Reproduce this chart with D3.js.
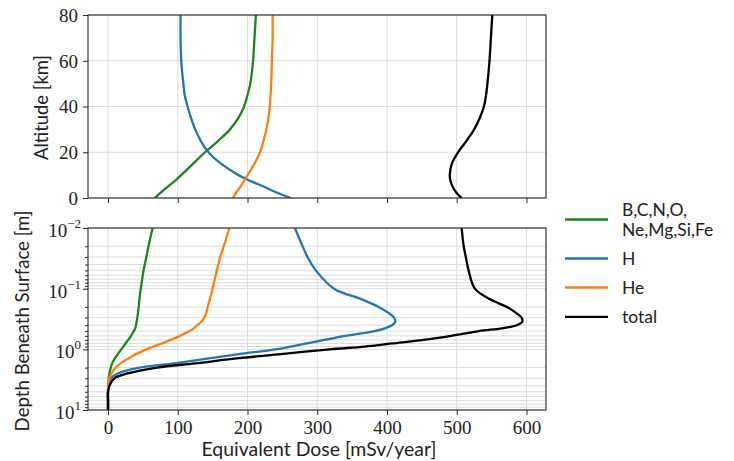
<!DOCTYPE html>
<html><head><meta charset="utf-8">
<script src="https://cdn.jsdelivr.net/npm/d3@7"></script>
<style>body{margin:0;background:#fff}svg{display:block}</style>
</head><body>
<svg id="c" width="734" height="461"></svg>
<script>
// ---------- DATA ----------
const doseTicks = [0, 100, 200, 300, 400, 500, 600];
const altTicks = [0, 20, 40, 60, 80];
const depthTicks = [0.01, 0.1, 1, 10];
const depthTickExp = ["\u22122", "\u22121", "0", "1"];

const seriesNames = ["B,C,N,O,|Ne,Mg,Si,Fe", "H", "He", "total"];
const seriesColors = ["#1b861b", "#1f77b4", "#ff7f0e", "#000000"];

// upper panel: altitude [km]
const altitude   = [0, 2.5, 5, 7.5, 10, 15, 20, 25, 30, 35, 40, 45, 50, 60, 70, 80];
const altHeavy   = [67, 76, 86, 96, 105, 122, 139, 158, 175, 187, 195, 200, 204, 208, 210, 212];
const altH       = [262, 241, 223, 204, 187, 162, 144, 133, 125, 119, 114, 110, 108, 105, 104, 104];
const altHe      = [179, 184, 190, 195, 200, 210, 218, 223, 227, 230, 232, 233, 234, 235, 236, 236];
const altTotal   = [507, 499, 494, 491, 490, 493, 502, 514, 525, 533, 539, 542, 544, 547, 549, 551];

// lower panel: depth beneath surface [m]
const depth      = [0.01, 0.02, 0.03, 0.05, 0.1, 0.15, 0.2, 0.25, 0.3, 0.35, 0.4, 0.45, 0.5, 0.6, 0.7, 0.8, 0.9, 1.0, 1.2, 1.4, 1.7, 2.0, 2.5, 3, 4, 5, 7, 10];
const depHeavy   = [64, 58, 55, 51, 47, 45, 44, 43, 42, 41, 40, 39, 37, 33, 29, 25, 22, 19, 14, 10, 6, 4, 2, 1, 0.3, 0, 0, 0];
const depH       = [268, 279, 286, 298, 324, 364, 388, 402, 410, 412, 407, 397, 382, 340, 310, 285, 262, 240, 188, 147, 95, 45, 14, 4, 1, 0, 0, 0];
const depHe      = [174, 166, 161, 156, 150, 146, 143, 141, 138, 134, 128, 123, 117, 103, 90, 77, 65, 55, 40, 30, 18, 11, 5, 2, 0.5, 0, 0, 0];
const depTotal   = [507, 510, 513, 517, 526, 548, 572, 585, 593, 594, 586, 565, 532, 492, 452, 407, 368, 318, 248, 188, 125, 70, 28, 9, 2, 0, 0, 0];

// ---------- LAYOUT ----------
const svg = d3.select("#c");
const L = 88, R = 546;
const top1 = 15, bot1 = 198, top2 = 228, bot2 = 410;
const serif = "'Liberation Serif', 'DejaVu Serif', serif";
const sans = "Lato, 'Open Sans', 'DejaVu Sans', sans-serif";
const gridColor = "#dcdcdc";
const spineColor = "#262626";

const x = d3.scaleLinear().domain([-28.7, 628]).range([L, R]);
const yTop = d3.scaleLinear().domain([0, 80]).range([bot1, top1]);
const yBot = d3.scaleLog().domain([0.01, 10]).range([top2, bot2]);

const defs = svg.append("defs");
defs.append("clipPath").attr("id", "clip1").append("rect")
  .attr("x", L).attr("y", top1).attr("width", R - L).attr("height", bot1 - top1);
defs.append("clipPath").attr("id", "clip2").append("rect")
  .attr("x", L).attr("y", top2).attr("width", R - L).attr("height", bot2 - top2);

// ---------- GRIDS ----------
function vGrid(y0, y1) {
  svg.append("g").selectAll("line").data(doseTicks).join("line")
    .attr("x1", d => x(d)).attr("x2", d => x(d))
    .attr("y1", y0).attr("y2", y1)
    .attr("stroke", gridColor).attr("stroke-width", 1);
}
vGrid(top1, bot1);
vGrid(top2, bot2);
svg.append("g").selectAll("line").data(altTicks).join("line")
  .attr("x1", L).attr("x2", R).attr("y1", d => yTop(d)).attr("y2", d => yTop(d))
  .attr("stroke", gridColor).attr("stroke-width", 1);

const minorDepth = [];
[0.01, 0.1, 1].forEach(b => { for (let k = 2; k <= 9; k++) minorDepth.push(b * k); });
svg.append("g").selectAll("line").data(depthTicks.concat(minorDepth)).join("line")
  .attr("x1", L).attr("x2", R).attr("y1", d => yBot(d)).attr("y2", d => yBot(d))
  .attr("stroke", gridColor).attr("stroke-width", 1);

// ---------- LINES ----------
const topSeries = [altHeavy, altH, altHe, altTotal];
const botSeries = [depHeavy, depH, depHe, depTotal];

const lineTop = d3.line().x(d => x(d[0])).y(d => yTop(d[1])).curve(d3.curveCatmullRom.alpha(0.5));
const lineBot = d3.line().x(d => x(d[0])).y(d => yBot(d[1])).curve(d3.curveCatmullRom.alpha(0.5));

const g1 = svg.append("g").attr("clip-path", "url(#clip1)");
topSeries.forEach((s, i) => {
  g1.append("path").datum(s.map((v, j) => [v, altitude[j]]))
    .attr("d", lineTop).attr("fill", "none")
    .attr("stroke", seriesColors[i]).attr("stroke-width", 2.3).attr("stroke-linejoin", "round");
});
const g2 = svg.append("g").attr("clip-path", "url(#clip2)");
botSeries.forEach((s, i) => {
  g2.append("path").datum(s.map((v, j) => [v, depth[j]]))
    .attr("d", lineBot).attr("fill", "none")
    .attr("stroke", seriesColors[i]).attr("stroke-width", 2.3).attr("stroke-linejoin", "round");
});

// ---------- AXES ----------
function frame(y0, y1) {
  svg.append("rect").attr("x", L).attr("y", y0).attr("width", R - L).attr("height", y1 - y0)
    .attr("fill", "none").attr("stroke", spineColor).attr("stroke-width", 1.1);
}
frame(top1, bot1);
frame(top2, bot2);

const xAx1 = svg.append("g").attr("transform", `translate(0,${bot1})`)
  .call(d3.axisBottom(x).tickValues(doseTicks).tickSize(5).tickFormat(""));
const xAx2 = svg.append("g").attr("transform", `translate(0,${bot2})`)
  .call(d3.axisBottom(x).tickValues(doseTicks).tickSize(5).tickPadding(6).tickFormat(d3.format("d")));
const yAx1 = svg.append("g").attr("transform", `translate(${L},0)`)
  .call(d3.axisLeft(yTop).tickValues(altTicks).tickSize(5).tickPadding(5).tickFormat(d3.format("d")));
const yAx2 = svg.append("g").attr("transform", `translate(${L},0)`)
  .call(d3.axisLeft(yBot).tickValues(depthTicks).tickSize(5).tickFormat(""));
const yAx2m = svg.append("g").attr("transform", `translate(${L},0)`)
  .call(d3.axisLeft(yBot).tickValues(minorDepth).tickSize(3).tickFormat(""));

[xAx1, xAx2, yAx1, yAx2, yAx2m].forEach(a => {
  a.select(".domain").remove();
  a.selectAll(".tick line").attr("stroke", spineColor).attr("stroke-width", 1);
  a.selectAll("text").attr("font-family", serif).attr("font-size", 19).attr("fill", "#222");
});
xAx2.selectAll("text").attr("dy", "0.71em");
yAx1.selectAll("text").attr("dy", "0.34em");

const ylab = svg.append("g");
depthTicks.forEach((d, i) => {
  const t = ylab.append("text").attr("x", L - 7).attr("y", yBot(d) + 9)
    .attr("text-anchor", "end").attr("font-family", serif).attr("font-size", 19).attr("fill", "#222");
  t.append("tspan").text("10");
  t.append("tspan").attr("font-size", 13).attr("dy", -9).text(depthTickExp[i]);
});

// ---------- AXIS LABELS ----------
const labelSize = 19;
function fit(sel, target) {
  const w = sel.node().getComputedTextLength();
  sel.attr("font-size", labelSize * target / w);
}
const xl = svg.append("text").attr("x", 319).attr("y", 456).attr("text-anchor", "middle")
  .attr("font-family", sans).attr("font-size", labelSize).attr("fill", "#222")
  .text("Equivalent Dose [mSv/year]");
fit(xl, 235);
const yl1 = svg.append("text").attr("transform", "translate(48,107.5) rotate(-90)").attr("text-anchor", "middle")
  .attr("font-family", sans).attr("font-size", labelSize).attr("fill", "#222")
  .text("Altitude [km]");
fit(yl1, 105);
const yl2 = svg.append("text").attr("transform", "translate(29,321) rotate(-90)").attr("text-anchor", "middle")
  .attr("font-family", sans).attr("font-size", labelSize).attr("fill", "#222")
  .text("Depth Beneath Surface [m]");
fit(yl2, 221);

// ---------- LEGEND ----------
const legY = [219.5, 258.5, 287.5, 316.8];
const legSize = 17.5;
const leg = svg.append("g");
seriesNames.forEach((name, i) => {
  leg.append("line").attr("x1", 565).attr("x2", 608).attr("y1", legY[i]).attr("y2", legY[i])
    .attr("stroke", seriesColors[i]).attr("stroke-width", 2.3);
  const parts = name.split("|");
  const t = leg.append("text").attr("x", 622)
    .attr("y", legY[i] + 6 - (parts.length - 1) * 10)
    .attr("font-family", sans).attr("font-size", legSize).attr("fill", "#222");
  parts.forEach((p, k) => {
    t.append("tspan").attr("x", 622).attr("dy", k === 0 ? 0 : 20).text(p);
  });
});
</script>
</body></html>
